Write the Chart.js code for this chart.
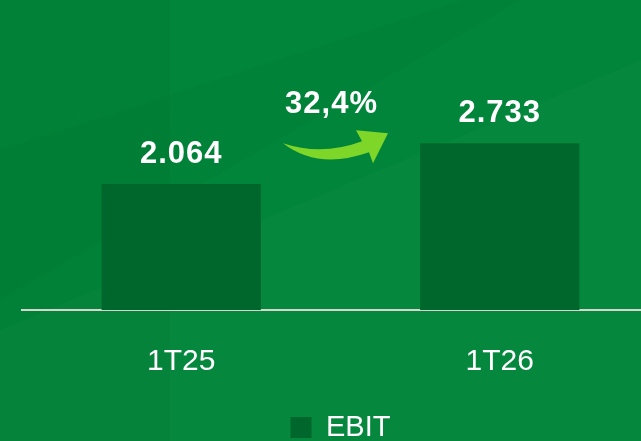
<!DOCTYPE html>
<html>
<head>
<meta charset="utf-8">
<script src="https://cdn.jsdelivr.net/npm/chart.js@4/dist/chart.umd.min.js"></script>
<style>
  html, body { margin: 0; padding: 0; background: #00843a; overflow: hidden; }
  #wrap { width: 680px; height: 452px; }
</style>
</head>
<body>
<div id="wrap"><canvas id="ebitChart" width="680" height="452"></canvas></div>
<script>
// chart data
const periods = ['1T25', '1T26'];
const ebitValues = [2064, 2733];
const growthLabel = '32,4%';

const BAR_COLOR = '#00672c';
const TEXT_COLOR = '#ffffff';
const ARROW_COLOR = '#7ed628';

// 2064 -> "2.064"
function formatNumber(v) {
    return String(v).replace(/\B(?=(\d{3})+(?!\d))/g, '.');
}

// green panel background with soft diagonal bands
const backgroundPlugin = {
    id: 'panelBackground',
    beforeDraw(chart) {
        const ctx = chart.ctx;
        const w = chart.width, h = chart.height;
        ctx.save();
        ctx.fillStyle = '#01853a';
        ctx.fillRect(0, 0, w, h);

        ctx.fillStyle = 'rgba(0, 90, 40, 0.08)';
        ctx.fillRect(0, 0, 170, h);

        ctx.fillStyle = 'rgba(0, 80, 35, 0.06)';
        ctx.beginPath();
        ctx.moveTo(0, 150);
        ctx.lineTo(465, 0);
        ctx.lineTo(520, 0);
        ctx.lineTo(0, 300);
        ctx.closePath();
        ctx.fill();

        ctx.fillStyle = 'rgba(255, 255, 255, 0.02)';
        ctx.beginPath();
        ctx.moveTo(0, 330);
        ctx.lineTo(641, 60);
        ctx.lineTo(641, 441);
        ctx.lineTo(0, 441);
        ctx.closePath();
        ctx.fill();
        ctx.restore();
    }
};

// value labels, growth arrow and percentage
const annotationPlugin = {
    id: 'ebitAnnotations',
    afterDatasetsDraw(chart) {
        const ctx = chart.ctx;
        const meta = chart.getDatasetMeta(0);
        ctx.save();
        ctx.fillStyle = TEXT_COLOR;
        ctx.font = 'bold 31px "Liberation Sans", Arial, sans-serif';
        ctx.textAlign = 'center';
        ctx.textBaseline = 'middle';
        if ('letterSpacing' in ctx) ctx.letterSpacing = '1px';
        meta.data.forEach((bar, i) => {
            ctx.fillText(formatNumber(ebitValues[i]), bar.x, bar.y - 30);
        });

        // growth arrow between the two bars
        const mid = (meta.data[0].x + meta.data[1].x) / 2;
        const top = meta.data[1].y;
        const ox = mid - 340.5, oy = top - 143;
        ctx.fillText(growthLabel, mid - 9, top - 39);

        ctx.fillStyle = ARROW_COLOR;
        ctx.beginPath();
        ctx.moveTo(283 + ox, 143 + oy);
        ctx.quadraticCurveTo(322 + ox, 156 + oy, 362 + ox, 141 + oy);
        ctx.lineTo(356 + ox, 130 + oy);
        ctx.lineTo(388 + ox, 133 + oy);
        ctx.lineTo(373 + ox, 163 + oy);
        ctx.lineTo(369 + ox, 152 + oy);
        ctx.quadraticCurveTo(318 + ox, 170 + oy, 283 + ox, 143 + oy);
        ctx.closePath();
        ctx.fill();
        ctx.restore();
    }
};

const ctx = document.getElementById('ebitChart').getContext('2d');
new Chart(ctx, {
    type: 'bar',
    data: {
        labels: periods,
        datasets: [{
            label: 'EBIT',
            data: ebitValues,
            backgroundColor: BAR_COLOR,
            borderWidth: 0,
            barPercentage: 0.5,
            categoryPercentage: 1.0
        }]
    },
    options: {
        responsive: false,
        animation: false,
        devicePixelRatio: 1,
        layout: { padding: { left: 22, right: 21, top: 0, bottom: 0 } },
        plugins: {
            legend: {
                position: 'bottom',
                labels: {
                    color: TEXT_COLOR,
                    font: { family: '"Liberation Sans", Arial, sans-serif', size: 29 },
                    boxWidth: 21,
                    boxHeight: 21,
                    padding: 7
                }
            },
            tooltip: { enabled: false }
        },
        scales: {
            x: {
                grid: { display: false },
                border: { display: true, color: '#d6d6ce', width: 2 },
                ticks: {
                    color: TEXT_COLOR,
                    font: { family: '"Liberation Sans", Arial, sans-serif', size: 30 },
                    padding: 26
                }
            },
            y: {
                display: false,
                min: 0,
                max: 5080
            }
        }
    },
    plugins: [backgroundPlugin, annotationPlugin]
});
</script>
</body>
</html>
